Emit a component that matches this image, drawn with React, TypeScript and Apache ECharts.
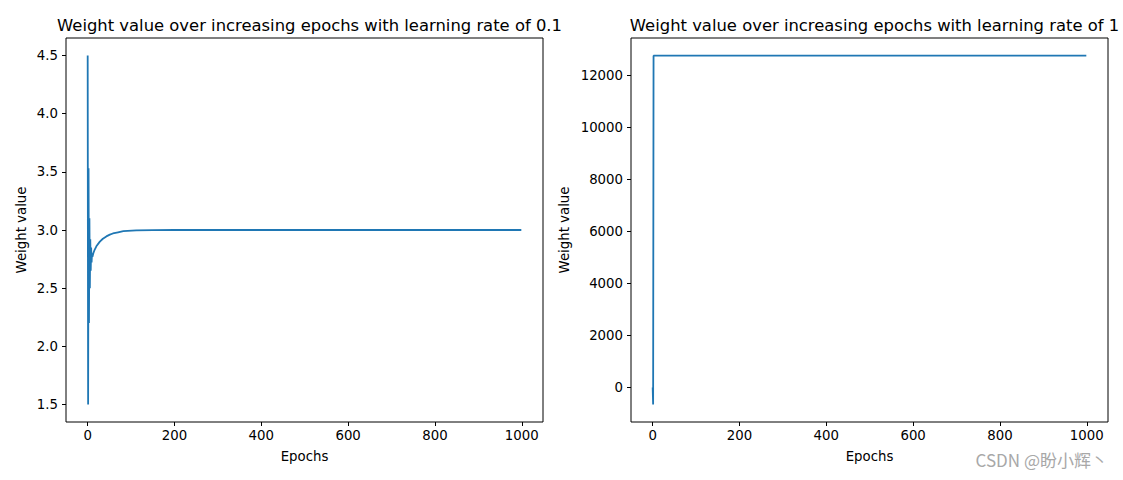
import React, { useEffect, useRef } from "react";
import * as echarts from "echarts";

// Left chart: learning rate 0.1
const lr01Epochs = [0, 1, 2, 3, 4, 5, 6, 7, 8, 9, 10, 11, 13, 16, 20, 28, 35, 43, 51, 58, 70, 82, 112, 150, 200, 999];
const lr01Weights = [4.5, 1.5, 3.53, 2.2, 3.1, 2.5, 2.92, 2.65, 2.85, 2.72, 2.8, 2.77, 2.8, 2.83, 2.86, 2.9, 2.925, 2.945, 2.96, 2.97, 2.98, 2.99, 2.997, 2.999, 3.0, 3.0];

// Right chart: learning rate 1
const lr1Epochs = [0, 1, 2, 999];
const lr1Weights = [0, -650, 12760, 12760];

const xTicks = [0, 200, 400, 600, 800, 1000];
const leftYTicks = [1.5, 2.0, 2.5, 3.0, 3.5, 4.0, 4.5];
const rightYTicks = [0, 2000, 4000, 6000, 8000, 10000, 12000];

const titles = [
  "Weight value over increasing epochs with learning rate of 0.1",
  "Weight value over increasing epochs with learning rate of 1",
];

const FONT = "DejaVu Sans";
const LINE = "#1f77b4";
const FS = 13.3;

export default function App() {
  const ref = useRef<HTMLDivElement>(null);
  useEffect(() => {
    if (!ref.current) return;
    const chart = echarts.init(ref.current, null, { renderer: "svg" });
    const grids = [
      { left: 66, top: 38, width: 477, height: 384 },
      { left: 631, top: 38, width: 477, height: 384 },
    ];
    const xAxisBase = (gi: number) => ({
      type: "value",
      gridIndex: gi,
      min: -49.95,
      max: 1048.95,
      name: "Epochs",
      nameLocation: "middle",
      nameGap: 28,
      nameTextStyle: { color: "#000", fontSize: FS, fontFamily: FONT },
      axisLine: { show: false, onZero: false },
      axisTick: { show: true, length: 4, lineStyle: { color: "#000" }, customValues: xTicks },
      axisLabel: {
        color: "#000",
        fontSize: FS,
        fontFamily: FONT,
        margin: 7,
        customValues: xTicks,
        formatter: (v: number) => String(Math.round(v)),
      },
      splitLine: { show: false },
    });
    const titleStyle = { color: "#000", fontSize: 16.4, fontWeight: "normal", fontFamily: FONT };
    const option: any = {
      animation: false,
      backgroundColor: "#fff",
      title: [
        { text: titles[0], left: 66 + 477 / 2, textAlign: "center", top: 12, textStyle: titleStyle },
        { text: titles[1], left: 631 + 477 / 2, textAlign: "center", top: 12, textStyle: titleStyle },
      ],
      grid: grids.map((g) => ({ ...g, show: true, borderColor: "#000", borderWidth: 1, backgroundColor: "transparent" })),
      xAxis: [xAxisBase(0), xAxisBase(1)],
      yAxis: [
        {
          type: "value",
          gridIndex: 0,
          min: 1.35,
          max: 4.65,
          name: "Weight value",
          nameLocation: "middle",
          nameGap: 38,
          nameTextStyle: { color: "#000", fontSize: FS, fontFamily: FONT },
          axisLine: { show: false, onZero: false },
          axisTick: { show: true, length: 4, lineStyle: { color: "#000" }, customValues: leftYTicks },
          axisLabel: {
            color: "#000",
            fontSize: FS,
            fontFamily: FONT,
            margin: 8,
            customValues: leftYTicks,
            formatter: (v: number) => v.toFixed(1),
          },
          splitLine: { show: false },
        },
        {
          type: "value",
          gridIndex: 1,
          min: -1323,
          max: 13439,
          name: "Weight value",
          nameLocation: "middle",
          nameGap: 60,
          nameTextStyle: { color: "#000", fontSize: FS, fontFamily: FONT },
          axisLine: { show: false, onZero: false },
          axisTick: { show: true, length: 4, lineStyle: { color: "#000" }, customValues: rightYTicks },
          axisLabel: {
            color: "#000",
            fontSize: FS,
            fontFamily: FONT,
            margin: 8,
            customValues: rightYTicks,
            formatter: (v: number) => String(Math.round(v)),
          },
          splitLine: { show: false },
        },
      ],
      series: [
        {
          type: "line",
          xAxisIndex: 0,
          yAxisIndex: 0,
          data: lr01Epochs.map((e, i) => [e, lr01Weights[i]]),
          showSymbol: false,
          symbol: "none",
          lineStyle: { color: LINE, width: 1.8 },
        },
        {
          type: "line",
          xAxisIndex: 1,
          yAxisIndex: 1,
          data: lr1Epochs.map((e, i) => [e, lr1Weights[i]]),
          showSymbol: false,
          symbol: "none",
          lineStyle: { color: LINE, width: 1.8 },
        },
      ],
      graphic: [
        {
          type: "text",
          right: 15,
          top: 451,
          style: {
            text: "CSDN @盼小辉丶",
            fill: "#a8a8a8",
            fontSize: 17,
            fontFamily: "'Noto Sans CJK SC', 'DejaVu Sans'",
          },
        },
      ],
    };
    chart.setOption(option);
    return () => chart.dispose();
  }, []);
  return (
    <div
      ref={ref}
      style={{ position: "fixed", left: 0, top: 0, width: 1123, height: 480, background: "#fff" }}
    />
  );
}
